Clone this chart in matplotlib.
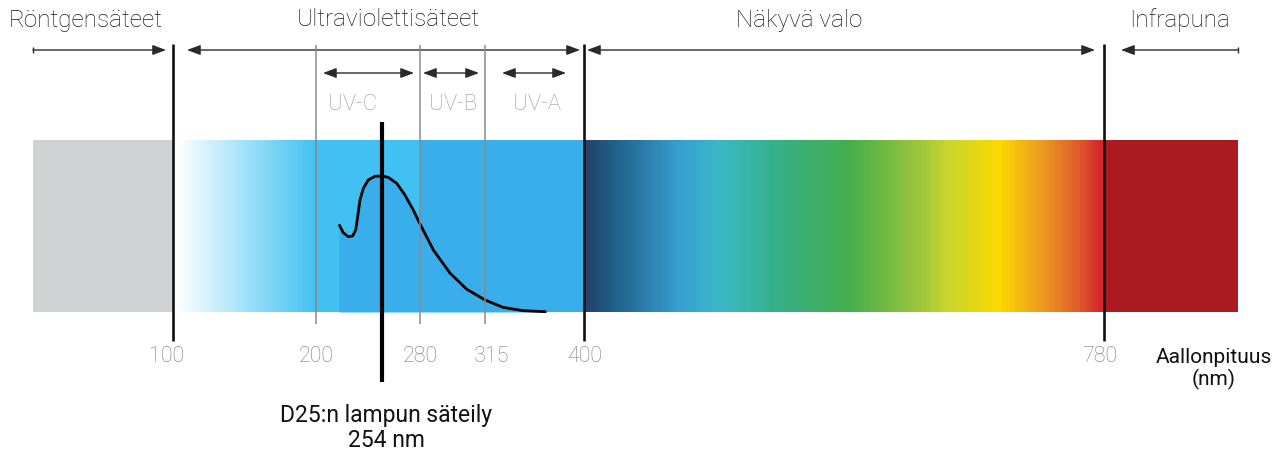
import numpy as np
import matplotlib
matplotlib.use('Agg')
import matplotlib.pyplot as plt
from matplotlib.colors import LinearSegmentedColormap
from matplotlib import transforms as mtrans
from matplotlib.patches import ArrowStyle

# ---------------- data ----------------
region_names = ['Röntgensäteet', 'Ultraviolettisäteet', 'Näkyvä valo', 'Infrapuna']
region_bounds = [(0, 100), (100, 400), (400, 780), (780, 900)]
uv_names = ['UV-C', 'UV-B', 'UV-A']
uv_bounds = [(200, 280), (280, 315), (315, 400)]
tick_values = [100, 200, 280, 315, 400, 780]
tick_labels = ['100', '200', '280', '315', '400', '780']
major_bounds = [100, 400, 780]
minor_bounds = [200, 280, 315]
lamp_wl = 254
lamp_label = 'D25:n lampun säteily\n254 nm'
axis_label = 'Aallonpituus\n(nm)'

# emission curve of the lamp (relative intensity, peak = 1)
lamp_curve_wl = [218.8, 222.3, 226.4, 230.0, 232.5, 234.1, 236.0, 238.7, 242.8,
                 248.3, 254.0, 258.3, 264.1, 269.7, 275.4, 279.8, 287.2, 296.2,
                 305.2, 315.2, 330.5, 347.6, 367.7]
lamp_curve_int = [0.645, 0.583, 0.554, 0.559, 0.603, 0.701, 0.824, 0.909, 0.971,
                  0.998, 1.000, 0.990, 0.946, 0.860, 0.750, 0.652, 0.456, 0.285,
                  0.167, 0.088, 0.034, 0.010, 0.002]

# colour stops of the visible spectrum (wavelength, colour)
visible_stop_wl = [400, 419, 470, 499, 538, 594, 645, 667, 704, 733, 762, 777, 780]
visible_stop_col = ['#263f69', '#1f5c85', '#36a0d0', '#3bb8c7', '#35b08c', '#44ad4c',
                    '#9dc53b', '#c8d62c', '#fcd900', '#ed9f1e', '#df5b2a', '#d4282b',
                    '#d4282b']
xray_col = '#d1d2d4'
uv_start_col = '#ffffff'
uvc_col = '#41c1f2'
uvab_col = '#39aeeb'
ir_col = '#ac1a21'

# ---------------- layout ----------------
W, H = 1286, 454
# non-linear wavelength axis (wavelength -> horizontal pixel)
SCALE_WL = [-23.6, 0, 100, 200, 254, 280, 315, 400, 780, 900, 943]
SCALE_PX = [0, 33, 173, 316, 382, 420, 485, 584, 1104, 1238, 1286]
BAR_TOP, BAR_BOT = 140, 312
PEAK_H = 136

def fwd(x):
    return np.interp(x, SCALE_WL, SCALE_PX)

def inv(p):
    return np.interp(p, SCALE_PX, SCALE_WL)

plt.rcParams['font.family'] = ['Roboto', 'DejaVu Sans']

fig = plt.figure(figsize=(W / 100, H / 100), dpi=100)
ax = fig.add_axes([0, 0, 1, 1])
ax.set_xscale('function', functions=(fwd, inv))
ax.set_xlim(SCALE_WL[0], SCALE_WL[-1])
ax.set_ylim(H, 0)
ax.axis('off')

# pixel-x transform for layout text
L = mtrans.blended_transform_factory(mtrans.Affine2D().scale(1 / W, 1) + ax.transAxes,
                                     ax.transData)
# intensity transform for the lamp curve
I = mtrans.Affine2D().scale(1, -PEAK_H).translate(0, BAR_BOT) + ax.transData

# ---- bars ----
ax.fill_between([region_bounds[0][0], region_bounds[0][1]], BAR_BOT, BAR_TOP,
                color=xray_col, lw=0)
cm_uv = LinearSegmentedColormap.from_list('uv', [uv_start_col, uvc_col])
xe = np.linspace(102, 200, 200)
ax.pcolormesh(xe, [BAR_TOP, BAR_BOT], ((xe[:-1] + xe[1:]) / 2)[None, :],
              cmap=cm_uv, vmin=102, vmax=200, shading='flat', antialiased=False,
              edgecolors='none')
ax.fill_between([200, 280], BAR_BOT, BAR_TOP, color=uvc_col, lw=0)
ax.fill_between([280, 400], BAR_BOT, BAR_TOP, color=uvab_col, lw=0)
pos = [(w - 400) / 380 for w in visible_stop_wl]
cm_vis = LinearSegmentedColormap.from_list('vis', list(zip(pos, visible_stop_col)))
xv = np.linspace(400, 780, 600)
ax.pcolormesh(xv, [BAR_TOP, BAR_BOT], ((xv[:-1] + xv[1:]) / 2)[None, :],
              cmap=cm_vis, vmin=400, vmax=780, shading='flat', antialiased=False,
              edgecolors='none')
ax.fill_between([780, 900], BAR_BOT, BAR_TOP, color=ir_col, lw=0)

# ---- lamp curve ----
ax.fill_between(lamp_curve_wl, lamp_curve_int, 0, color=uvab_col, lw=0,
                transform=I, zorder=2)
ax.plot(lamp_curve_wl, lamp_curve_int, color='black', lw=2.0, transform=I,
        zorder=3, solid_capstyle='butt', solid_joinstyle='round')

# ---- vertical lines ----
ax.vlines(minor_bounds, 45, 324, color='#8a8a8a', lw=1.1, zorder=4)
ax.vlines(major_bounds, 44, 341, color='#111111', lw=1.9, zorder=5)
ax.vlines([lamp_wl], 122, 382, color='black', lw=3.0, zorder=6)

# ---- arrows ----
arrow_col = '#2a2a2a'
def arrow(a, b, y, style, gap_a, gap_b):
    ax.annotate('', xy=(b, y), xytext=(a, y), xycoords='data', textcoords='data',
                arrowprops=dict(arrowstyle=ArrowStyle(style, head_length=0.8,
                                                      head_width=0.3),
                                mutation_scale=10, color=arrow_col, lw=1.0,
                                shrinkA=gap_a * 0.72, shrinkB=gap_b * 0.72))

TOP_Y, SUB_Y = 50, 73
top_styles = ['-|>', '<|-|>', '<|-|>', '<|-']
top_gaps = [(0, 7), (14, 4), (3, 9), (17, 0)]
for (a, b), st, (ga, gb) in zip(region_bounds, top_styles, top_gaps):
    arrow(a, b, TOP_Y, st, ga, gb)
ax.vlines([region_bounds[0][0], region_bounds[-1][1]], TOP_Y - 3, TOP_Y + 3,
          color=arrow_col, lw=1.0)
sub_gaps = [(7, 6), (3, 6), (17, 18)]
for (a, b), (ga, gb) in zip(uv_bounds, sub_gaps):
    arrow(a, b, SUB_Y, '<|-|>', ga, gb)

# ---- texts ----
title_px = [86, 388, 799, 1180]
for name, xp in zip(region_names, title_px):
    ax.text(xp, 20, name, transform=L, ha='center', va='center', fontsize=17.5,
            color='#1a1a1a', fontweight='light')
uv_px = [353, 453, 537]
for name, xp in zip(uv_names, uv_px):
    ax.text(xp, 104, name, transform=L, ha='center', va='center', fontsize=16,
            color='#999999', fontweight='light')
tick_off = [-6, 0, 0, 7, 1, -4]
for v, lab, off in zip(tick_values, tick_labels, tick_off):
    ax.text(float(fwd(v)) + off, 356, lab, transform=L, ha='center', va='center',
            fontsize=15.5, color='#7a7a7a', fontweight='light')
ax.text(1214, 369, axis_label, transform=L, ha='center', va='center', fontsize=15,
        color='#111111', linespacing=1.1)
ax.text(float(fwd(lamp_wl)) + 4, 428, lamp_label, transform=L, ha='center',
        va='center', fontsize=16.5, color='#111111', linespacing=1.1)

fig.savefig('out.png', dpi=100)
